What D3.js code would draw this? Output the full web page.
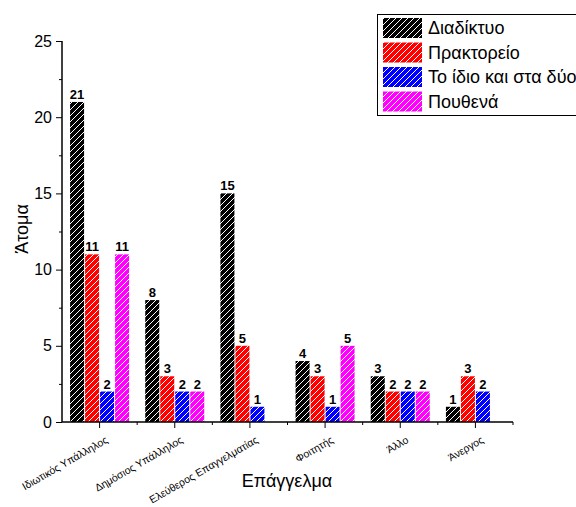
<!DOCTYPE html>
<html lang="el">
<head>
<meta charset="UTF-8">
<title>Επάγγελμα</title>
<script src="https://d3js.org/d3.v7.min.js"></script>
<style>
  body { margin: 0; background: #fff; }
  svg text { font-family: "Liberation Sans", Arial, sans-serif; fill: #000; }
  .lbl { font-size: 13px; font-weight: bold; }
</style>
</head>
<body>
<div id="chart"></div>
<script>
// data
const categories = ["Ιδιωτικός Υπάλληλος", "Δημόσιος Υπάλληλος", "Ελεύθερος Επαγγελματίας", "Φοιτητής", "Άλλο", "Άνεργος"];
const seriesNames = ["Διαδίκτυο", "Πρακτορείο", "Το ίδιο και στα δύο", "Πουθενά"];
const diadiktyo = [21, 8, 15, 4, 3, 1];
const praktoreio = [11, 3, 5, 3, 2, 3];
const kaiStaDyo = [2, 2, 1, 1, 2, 2];
const pouthena = [11, 2, 0, 5, 2, 0];
const yTicks = [0, 5, 10, 15, 20, 25];

const series = [diadiktyo, praktoreio, kaiStaDyo, pouthena];
const colors = ["#000000", "#ff0000", "#0000ff", "#ff00ff"];

const W = 576, H = 507;
const svg = d3.select("#chart").append("svg")
    .attr("width", W).attr("height", H);

// hatch patterns
const defs = svg.append("defs");
colors.forEach((c, i) => {
    const p = defs.append("pattern")
        .attr("id", "hatch" + i)
        .attr("patternUnits", "userSpaceOnUse")
        .attr("width", 6).attr("height", 6);
    p.append("rect").attr("width", 6).attr("height", 6).attr("fill", c);
    p.append("path")
        .attr("d", "M-1,1 L1,-1 M0,6 L6,0 M5,7 L7,5")
        .attr("stroke", "#fff").attr("stroke-width", 1);
});

const x0 = 62, x1 = 513, yBase = 422, yTop = 41;

const x = d3.scaleBand().domain(categories).range([x0, x1]).padding(0);
const y = d3.scaleLinear().domain([0, 25]).range([yBase, yTop]);
const slot = 15;

// bars
series.forEach((vals, s) => {
    const g = svg.append("g");
    const rows = categories.map((c, i) => ({ c: c, v: vals[i] })).filter(d => d.v > 0);
    g.selectAll("rect").data(rows).enter().append("rect")
        .attr("x", d => x(d.c) + x.bandwidth() / 2 - 2 * slot + s * slot + 0.5)
        .attr("y", d => y(d.v))
        .attr("width", slot - 1)
        .attr("height", d => y(0) - y(d.v))
        .attr("fill", "url(#hatch" + s + ")");
    g.selectAll("text").data(rows).enter().append("text")
        .attr("class", "lbl")
        .attr("x", d => x(d.c) + x.bandwidth() / 2 - 2 * slot + s * slot + slot / 2)
        .attr("y", d => y(d.v) - 3)
        .attr("text-anchor", "middle")
        .text(d => d.v);
});

// y axis
const yAxis = svg.append("g").attr("transform", `translate(${x0},0)`)
    .call(d3.axisLeft(y).tickValues(yTicks).tickSize(6).tickPadding(4).tickFormat(d3.format("d")));
yAxis.selectAll("text").style("font-size", "16px");
yAxis.select(".domain").remove();
svg.append("g").attr("transform", `translate(${x0},0)`)
    .call(d3.axisLeft(y).tickValues([2.5, 7.5, 12.5, 17.5, 22.5]).tickSize(3).tickFormat(""))
    .select(".domain").remove();
svg.append("line").attr("x1", x0).attr("x2", x0).attr("y1", yTop).attr("y2", yBase)
    .attr("stroke", "#000").attr("stroke-width", 1.5);

// x axis
const xAxis = svg.append("g").attr("transform", `translate(0,${yBase})`)
    .call(d3.axisBottom(x).tickSize(6).tickFormat(""));
xAxis.select(".domain").remove();
const minorX = categories.map(c => x(c) + x.bandwidth());
svg.append("g").selectAll("line").data(minorX).enter().append("line")
    .attr("x1", d => d).attr("x2", d => d)
    .attr("y1", yBase).attr("y2", yBase + 3)
    .attr("stroke", "#000");
svg.append("line").attr("x1", x0).attr("x2", x1).attr("y1", yBase).attr("y2", yBase)
    .attr("stroke", "#000").attr("stroke-width", 1.5);

// rotated category labels
svg.append("g").selectAll("text").data(categories).enter().append("text")
    .attr("transform", d => `translate(${x(d) + x.bandwidth() / 2 + 9},${yBase + 20}) rotate(-30)`)
    .attr("text-anchor", "end")
    .style("font-size", "10.5px")
    .text(d => d);

// axis titles
svg.append("text")
    .attr("transform", "translate(28,229) rotate(-90)")
    .attr("text-anchor", "middle")
    .style("font-size", "18px")
    .text("Άτομα");
svg.append("text")
    .attr("x", 287).attr("y", 487)
    .attr("text-anchor", "middle")
    .style("font-size", "18px")
    .text("Επάγγελμα");

// legend
const legend = svg.append("g");
legend.append("rect")
    .attr("x", 377.5).attr("y", 14.5).attr("width", 260).attr("height", 101)
    .attr("fill", "#fff").attr("stroke", "#000").attr("stroke-width", 1);
seriesNames.forEach((n, i) => {
    const yy = 18 + i * 24.5;
    legend.append("rect")
        .attr("x", 383).attr("y", yy).attr("width", 39).attr("height", 20)
        .attr("fill", "url(#hatch" + i + ")");
    legend.append("text")
        .attr("x", 428).attr("y", yy + 16)
        .style("font-size", "18px")
        .text(n);
});
</script>
</body>
</html>
